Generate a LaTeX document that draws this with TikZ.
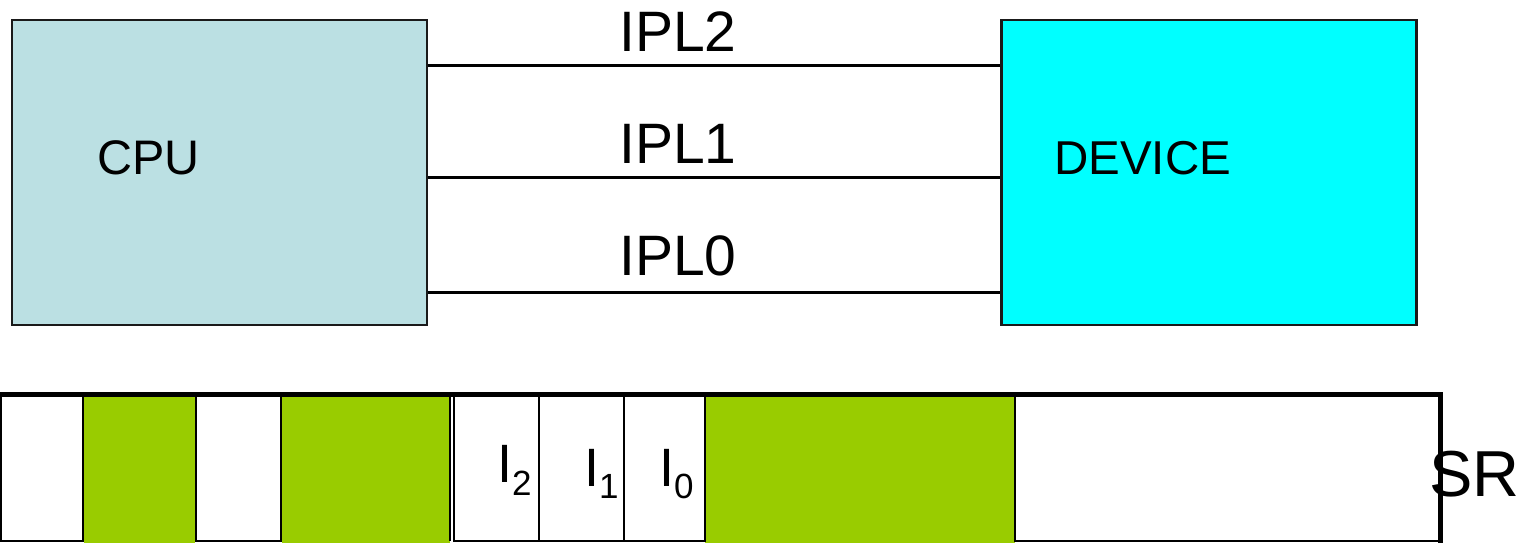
\documentclass[tikz,border=0pt]{standalone}
\usepackage{fontspec}
\setmainfont{Liberation Sans}
\definecolor{cpufill}{HTML}{BBE0E3}
\definecolor{devfill}{HTML}{00FFFF}
\definecolor{srgreen}{HTML}{99CC00}
\definecolor{edgegray}{HTML}{1A1A1A}
\newcommand\fsz[1]{\fontsize{#1}{#1}\selectfont}
\begin{document}
\begin{tikzpicture}[x=1pt,y=-1pt,
  unit/.style={draw=edgegray,line width=2.5pt,rectangle,inner sep=0pt,minimum width=415pt,minimum height=305pt},
  wire/.style={draw=black,line width=3pt},
  lbl/.style={anchor=base west,inner sep=0pt,text=black},
  cellw/.style={draw=black,line width=2pt,fill=white},
  cellg/.style={fill=srgreen},
  srframe/.style={draw=black,line width=5pt,line cap=rect}
]
\useasboundingbox (0,0) rectangle (1522,542);
% units
\node[unit,fill=cpufill] (cpu) at (219.5,172.5) {};
\node[unit,fill=devfill] (dev) at (1209,172.5) {};
% wires
\draw[wire] ([yshift=107.5pt]cpu.east) -- ([yshift=107.5pt]dev.west);
\draw[wire] ([yshift=-4.5pt]cpu.east) -- ([yshift=-4.5pt]dev.west);
\draw[wire] ([yshift=-119.5pt]cpu.east) -- ([yshift=-119.5pt]dev.west);
% labels
\node[lbl,font=\fsz{48.5}] (cpulbl) at (97,174) {CPU};
\node[lbl,font=\fsz{47.5}] (devlbl) at (1054,174) {DEVICE};
\node[lbl,font=\fsz{57}] (ipl2) at (619,51) {IPL2};
\node[lbl,font=\fsz{57}] (ipl1) at (619,163) {IPL1};
\node[lbl,font=\fsz{57}] (ipl0) at (619,275) {IPL0};
% status register cells
\path[cellg] (83.5,396) rectangle (195,545);
\path[cellg] (282,396) rectangle (449.5,545);
\path[cellg] (705,396) rectangle (1015,545);
\path[cellw] (1,396) rectangle (82.5,541);
\path[cellw] (196,396) rectangle (281,541);
\draw[black,line width=2pt] (450,396) -- (450,541);
\path[cellw] (454,396) rectangle (539,541);
\path[cellw] (539,396) rectangle (624,541);
\path[cellw] (624,396) rectangle (704.5,541);
\path[cellw] (1015,396) rectangle (1440,541);
\draw[srframe] (-5,394.5) -- (1440.5,394.5) -- (1440.5,548);
% bit labels
\node[lbl] (i2) at (497,482) {\fsz{54}I\raisebox{-13pt}{\fsz{35}2}};
\node[lbl] (i1) at (584,486) {\fsz{54}I\raisebox{-12pt}{\fsz{35}1}};
\node[lbl] (i0) at (659,486) {\fsz{54}I\raisebox{-12pt}{\fsz{35}0}};
\node[lbl,font=\fsz{65}] (sr) at (1429,496) {SR};
\end{tikzpicture}
\end{document}
